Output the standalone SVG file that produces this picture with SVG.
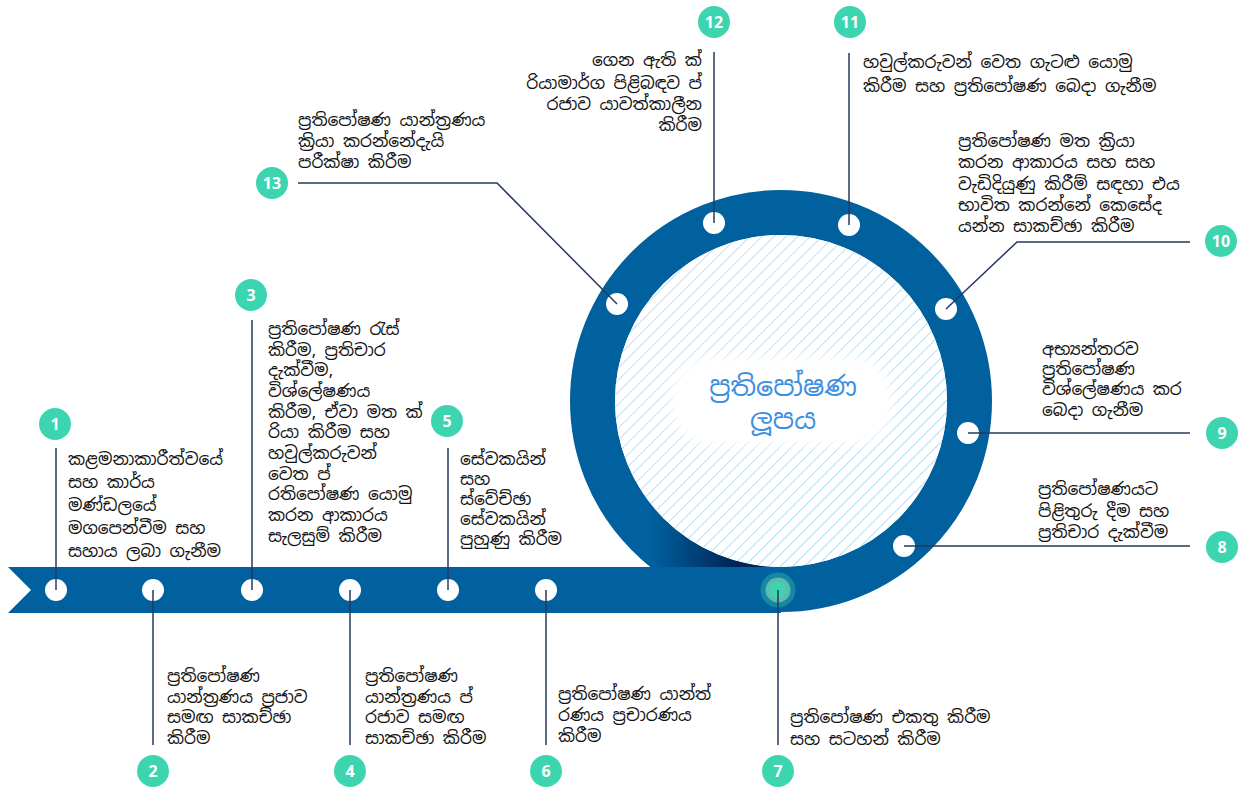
<svg xmlns="http://www.w3.org/2000/svg" width="1241" height="787" viewBox="0 0 1241 787">
<defs>
<style>
.t{font-family:"Noto Sans Sinhala","Noto Sans","Liberation Sans",sans-serif;font-size:17px;fill:#111}
.b{fill:#3dd5b0}
.n{font-family:"Open Sans","Liberation Sans",sans-serif;font-weight:700;font-size:16px;fill:#fff;text-anchor:middle}
.d{fill:#fff}
.c line,.c polyline{stroke:#24395e;stroke-width:1.5;fill:none}
.ctr{font-family:"Noto Sans Sinhala","Noto Sans","Liberation Sans",sans-serif;font-size:27px;fill:#3d8fe0;text-anchor:middle}
</style>
<pattern id="hatch" width="8.5" height="8.5" patternUnits="userSpaceOnUse" patternTransform="rotate(45)">
<rect width="8.5" height="8.5" fill="#fff"/>
<line x1="0" y1="0" x2="0" y2="8.5" stroke="#a8d3ee" stroke-width="1.5"/>
</pattern>
<linearGradient id="shade" gradientUnits="userSpaceOnUse" x1="652" y1="0" x2="735" y2="0">
<stop offset="0" stop-color="#00619e"/>
<stop offset="1" stop-color="#002457"/>
</linearGradient>
<clipPath id="seg"><rect x="640" y="470" width="141" height="97"/></clipPath>
<filter id="blur" x="-20%" y="-30%" width="140%" height="160%"><feGaussianBlur stdDeviation="5"/></filter>
</defs>
<rect width="1241" height="787" fill="#fff"/>
<g id="loop">
<circle cx="781" cy="401" r="188.5" fill="none" stroke="#00619e" stroke-width="45"/>
<polygon points="8,567 781,567 781,613 8,613 31,590" fill="#00619e"/>
<circle cx="781" cy="401" r="188.5" fill="none" stroke="url(#shade)" stroke-width="45" clip-path="url(#seg)"/>
<circle cx="781" cy="401" r="166" fill="url(#hatch)"/>
<rect x="672" y="357" width="220" height="88" rx="40" fill="#fff" filter="url(#blur)"/>
<text class="ctr" x="783" y="396">ප්‍රතිපෝෂණ</text>
<text class="ctr" x="783" y="429">ලූපය</text>
</g>
<g id="node1">
<circle class="d" cx="56" cy="590" r="11"/>
<circle class="b" cx="55" cy="424" r="16"/><text class="n" x="55" y="430">1</text>
<text class="t"><tspan x="68" y="465">කළමනාකාරීත්වයේ</tspan><tspan x="68" y="488">සහ කාර්ය</tspan><tspan x="68" y="511">මණ්ඩලයේ</tspan><tspan x="68" y="534">මගපෙන්වීම සහ</tspan><tspan x="68" y="557">සහාය ලබා ගැනීම</tspan></text>
</g>
<g id="node2">
<circle class="d" cx="153" cy="590" r="11"/>
<circle class="b" cx="153" cy="771" r="16"/><text class="n" x="153" y="777">2</text>
<text class="t"><tspan x="167" y="682">ප්‍රතිපෝෂණ</tspan><tspan x="167" y="702.5">යාන්ත්‍රණය ප්‍රජාව</tspan><tspan x="167" y="723">සමඟ සාකච්ඡා</tspan><tspan x="167" y="743.5">කිරීම</tspan></text>
</g>
<g id="node3">
<circle class="d" cx="252" cy="590" r="11"/>
<circle class="b" cx="251" cy="295" r="16"/><text class="n" x="251" y="301">3</text>
<text class="t"><tspan x="268" y="335">ප්‍රතිපෝෂණ රැස්</tspan><tspan x="268" y="356">කිරීම, ප්‍රතිචාර</tspan><tspan x="268" y="376">දැක්වීම,</tspan><tspan x="268" y="397">විශ්ලේෂණය</tspan><tspan x="268" y="418">කිරීම, ඒවා මත ක්</tspan><tspan x="268" y="438">රියා කිරීම සහ</tspan><tspan x="268" y="459">හවුල්කරුවන්</tspan><tspan x="268" y="480">වෙත ප්</tspan><tspan x="268" y="500">රතිපෝෂණ යොමු</tspan><tspan x="268" y="521">කරන ආකාරය</tspan><tspan x="268" y="542">සැලසුම් කිරීම</tspan></text>
</g>
<g id="node4">
<circle class="d" cx="350" cy="590" r="11"/>
<circle class="b" cx="350" cy="771" r="16"/><text class="n" x="350" y="777">4</text>
<text class="t"><tspan x="365" y="682">ප්‍රතිපෝෂණ</tspan><tspan x="365" y="702.5">යාන්ත්‍රණය ප්</tspan><tspan x="365" y="723">රජාව සමඟ</tspan><tspan x="365" y="743.5">සාකච්ඡා කිරීම</tspan></text>
</g>
<g id="node5">
<circle class="d" cx="448" cy="590" r="11"/>
<circle class="b" cx="447" cy="421" r="16"/><text class="n" x="447" y="427">5</text>
<text class="t"><tspan x="460" y="465">සේවකයින්</tspan><tspan x="460" y="485">සහ</tspan><tspan x="460" y="505">ස්වේච්ඡා</tspan><tspan x="460" y="525">සේවකයින්</tspan><tspan x="460" y="545">පුහුණු කිරීම</tspan></text>
</g>
<g id="node6">
<circle class="d" cx="546" cy="590" r="11"/>
<circle class="b" cx="546" cy="771" r="16"/><text class="n" x="546" y="777">6</text>
<text class="t"><tspan x="558" y="700">ප්‍රතිපෝෂණ යාන්ත්</tspan><tspan x="558" y="721">රණය ප්‍රචාරණය</tspan><tspan x="558" y="742">කිරීම</tspan></text>
</g>
<g id="node7">
<circle cx="778" cy="590" r="17.5" fill="#3dd5b0" opacity="0.35"/>
<circle cx="778" cy="590" r="12.5" fill="#7fd0b4" opacity="0.7"/>
<circle cx="778" cy="590" r="8.5" fill="#3dd5b0"/>
<circle class="b" cx="778" cy="771" r="16"/><text class="n" x="778" y="777">7</text>
<text class="t"><tspan x="790" y="723">ප්‍රතිපෝෂණ එකතු කිරීම</tspan><tspan x="790" y="745">සහ සටහන් කිරීම</tspan></text>
</g>
<g id="node8">
<circle class="d" cx="904" cy="546" r="11"/>
<circle class="b" cx="1222" cy="547" r="16"/><text class="n" x="1222" y="553">8</text>
<text class="t"><tspan x="1038" y="495">ප්‍රතිපෝෂණයට</tspan><tspan x="1038" y="517">පිළිතුරු දීම සහ</tspan><tspan x="1038" y="538">ප්‍රතිචාර දැක්වීම</tspan></text>
</g>
<g id="node9">
<circle class="d" cx="968" cy="433" r="11"/>
<circle class="b" cx="1222" cy="433" r="16"/><text class="n" x="1222" y="439">9</text>
<text class="t"><tspan x="1042" y="355">අභ්‍යන්තරව</tspan><tspan x="1042" y="375">ප්‍රතිපෝෂණ</tspan><tspan x="1042" y="395">විශ්ලේෂණය කර</tspan><tspan x="1042" y="416">බෙදා ගැනීම</tspan></text>
</g>
<g id="node10">
<circle class="d" cx="946" cy="309" r="11"/>
<circle class="b" cx="1221" cy="241" r="16"/><text class="n" x="1221" y="247">10</text>
<text class="t"><tspan x="958" y="147">ප්‍රතිපෝෂණ මත ක්‍රියා</tspan><tspan x="958" y="168">කරන ආකාරය සහ සහ</tspan><tspan x="958" y="190">වැඩිදියුණු කිරීම් සඳහා එය</tspan><tspan x="958" y="211">භාවිත කරන්නේ කෙසේද</tspan><tspan x="958" y="232">යන්න සාකච්ඡා කිරීම</tspan></text>
</g>
<g id="node11">
<circle class="d" cx="849" cy="225" r="11"/>
<circle class="b" cx="850" cy="22" r="16"/><text class="n" x="850" y="28">11</text>
<text class="t"><tspan x="863" y="68">හවුල්කරුවන් වෙත ගැටළු යොමු</tspan><tspan x="863" y="92">කිරීම සහ ප්‍රතිපෝෂණ බෙදා ගැනීම</tspan></text>
</g>
<g id="node12">
<circle class="d" cx="714" cy="223" r="11"/>
<circle class="b" cx="714" cy="22" r="16"/><text class="n" x="714" y="28">12</text>
<text class="t" text-anchor="end"><tspan x="702" y="66">ගෙන ඇති ක්</tspan><tspan x="702" y="89">රියාමාර්ග පිළිබඳව ප්</tspan><tspan x="702" y="110">රජාව යාවත්කාලීන</tspan><tspan x="702" y="131">කිරීම</tspan></text>
</g>
<g id="node13">
<circle class="d" cx="617" cy="304" r="11"/>
<circle class="b" cx="272" cy="183" r="16"/><text class="n" x="272" y="189">13</text>
<text class="t"><tspan x="298" y="126">ප්‍රතිපෝෂණ යාන්ත්‍රණය</tspan><tspan x="298" y="147">ක්‍රියා කරන්නේදැයි</tspan><tspan x="298" y="168">පරීක්ෂා කිරීම</tspan></text>
</g>
<g id="connectors" class="c">
<line x1="56" y1="448" x2="56" y2="590"/>
<line x1="153" y1="590" x2="153" y2="745"/>
<line x1="252" y1="320" x2="252" y2="590"/>
<line x1="350" y1="590" x2="350" y2="745"/>
<line x1="448" y1="448" x2="448" y2="590"/>
<line x1="546" y1="590" x2="546" y2="745"/>
<line x1="778" y1="590" x2="778" y2="745"/>
<line x1="904" y1="546" x2="1190" y2="546"/>
<line x1="968" y1="433" x2="1190" y2="433"/>
<polyline points="946,309 1017,242 1190,242"/>
<line x1="849" y1="53" x2="849" y2="225"/>
<line x1="714" y1="52" x2="714" y2="223"/>
<polyline points="617,304 497,183 298,183"/>
</g>
</svg>
